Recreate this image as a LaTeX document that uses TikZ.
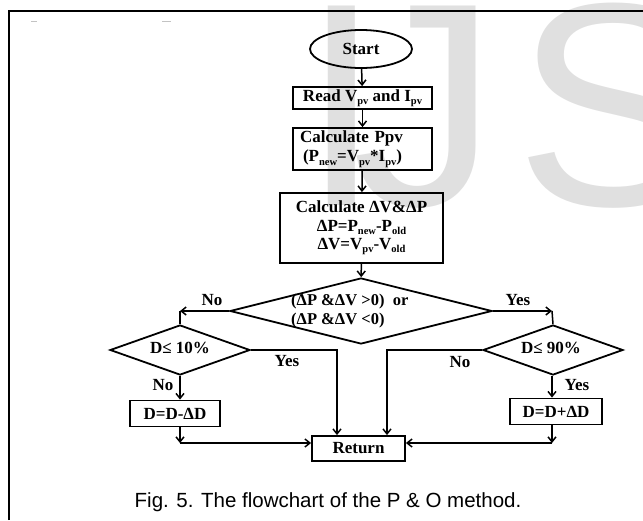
\documentclass[tikz,border=0pt]{standalone}
\usepackage{fontspec}
\usepackage{graphicx}
\setmainfont{Liberation Serif}
\newfontfamily\capfont{Liberation Sans}
\usetikzlibrary{shapes.geometric,arrows.meta}
\newcommand\sbx[1]{\raisebox{-0.4ex}{\fontsize{10.5}{10.5}\selectfont #1}}
\definecolor{wm}{RGB}{224,224,224}
\definecolor{dashgray}{RGB}{195,195,195}
\begin{document}
\begin{tikzpicture}[x=1pt,y=-1pt,
  font=\fontsize{17}{18.5}\selectfont\bfseries,
  box/.style={draw, line width=1.8pt, rectangle, inner sep=0pt, align=center},
  dec/.style={draw, diamond, line width=1.8pt, inner sep=0pt},
  conn/.style={line width=1.5pt},
  arr/.style={conn, -{Straight Barb[length=5pt,width=8pt]}},
  wmark/.style={anchor=base west, inner sep=0pt, text=wm, font=\capfont\fontsize{290}{290}\selectfont}]
\useasboundingbox (0,0) rectangle (643,520);
\clip (0,0) rectangle (643,520);
% watermark
\node[wmark] (wmI) at (301,205) {I};
\node[wmark] (wmJ) at (352,205) {J};
\node[wmark] (wmS) at (515,205) {S};
% frame and marks
\draw[line width=2.2pt] (9,520) -- (9,11) -- (643,11);
\draw[dashgray, line width=1pt] (31,21) -- (37,21);
\draw[dashgray, line width=1pt] (162,21) -- (171,21);
% nodes
\node[draw, ellipse, line width=1.8pt, inner sep=0pt, minimum width=102pt, minimum height=38pt] (start) at (361,49) {Start};
\node[box, minimum width=139pt, minimum height=22pt] (read) at (362.5,98) {Read V\sbx{pv} and I\sbx{pv}};
\node[box, text width=125pt, inner xsep=7pt, minimum height=42pt, align=left] (ppv) at (362.5,149) {Calculate Ppv\\[1pt]\hspace{3pt}(P\sbx{new}=V\sbx{pv}*I\sbx{pv})};
\node[box, minimum width=163pt, minimum height=70pt] (dv) at (361.5,228) {Calculate ΔV\&ΔP\\ΔP=P\sbx{new}-P\sbx{old}\\ΔV=V\sbx{pv}-V\sbx{old}};
\node[dec, minimum width=262pt, minimum height=66pt] (d1) at (361,311) {};
\node[anchor=west, align=left, inner sep=0pt, font=\fontsize{16.5}{19}\selectfont\bfseries] (d1t) at (291,311) {(ΔP \&ΔV >0)\ \ or\\(ΔP \&ΔV <0)};
\node[dec, minimum width=140pt, minimum height=50pt] (d2) at (180,350) {};
\node[inner sep=0pt] (d2t) at (180,348) {D≤ 10\%};
\node[dec, minimum width=140pt, minimum height=50pt] (d3) at (553,350) {};
\node[inner sep=0pt] (d3t) at (551,348) {D≤ 90\%};
\node[box, minimum width=90pt, minimum height=26pt] (lb) at (175,413.5) {D=D-ΔD};
\node[box, minimum width=92pt, minimum height=26pt] (rb) at (556,411.5) {D=D+ΔD};
\node[box, minimum width=93pt, minimum height=25pt] (ret) at (358.5,448.5) {Return};
% labels
\node (lno1) at (212,300) {No};
\node (lyes1) at (518,300) {Yes};
\node (lyes2) at (287,361) {Yes};
\node (lno2) at (163,385) {No};
\node (lno3) at (460,362) {No};
\node (lyes3) at (577,385) {Yes};
% caption
\node[font=\capfont\fontsize{20.5}{24}\selectfont\mdseries, inner sep=0pt] (cap) at (328,502) {Fig. 5. The flowchart of the P \& O method.};
% connectors
\coordinate (cl) at (180,311);
\coordinate (cr) at (552,311);
\coordinate (ly) at (337,350);
\coordinate (ry) at (387,350);
\coordinate (lj) at (180,443);
\coordinate (rj) at (552,443);
\draw[arr] (start) -- (read);
\draw[arr] (read) -- (ppv);
\draw[arr] (ppv) -- (dv);
\draw[arr] (dv) -- (d1);
\draw[arr] (d1.west) -- (cl);
\draw[conn] (cl) -- (d2.north);
\draw[arr] (d1.east) -- (cr);
\draw[conn] (cr) -- (d3.north);
\draw[arr] (d2.east) -- (ly) -- (ly |- ret.north);
\draw[arr] (d3.west) -- (ry) -- (ry |- ret.north);
\draw[arr] (d2.south) -- (d2.south |- lb.north);
\draw[arr] (cr |- d3.south) -- (cr |- rb.north);
\draw[arr] (lj |- lb.south) -- (lj);
\draw[arr] (lj) -- (lj -| ret.west);
\draw[arr] (rj |- rb.south) -- (rj);
\draw[arr] (rj) -- (rj -| ret.east);
\end{tikzpicture}
\end{document}
